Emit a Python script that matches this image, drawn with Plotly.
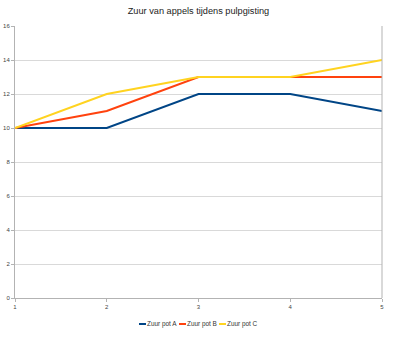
import plotly.graph_objects as go

# Measurement points and acidity per pot
dagen = [1, 2, 3, 4, 5]
zuur_a = [10, 10, 12, 12, 11]
zuur_b = [10, 11, 13, 13, 13]
zuur_c = [10, 12, 13, 13, 14]
namen = ["Zuur pot A", "Zuur pot B", "Zuur pot C"]
kleuren = ["#004586", "#ff420e", "#ffd320"]

fig = go.Figure()
for naam, waarden, kleur in zip(namen, [zuur_a, zuur_b, zuur_c], kleuren):
    fig.add_trace(go.Scatter(x=dagen, y=waarden, name=naam, mode="lines",
                             line=dict(color=kleur, width=2), showlegend=False))

fig.update_layout(
    width=400, height=337,
    margin=dict(l=15, r=18, t=26, b=39),
    paper_bgcolor="white", plot_bgcolor="white",
    font=dict(family="Liberation Sans, Arial, sans-serif", color="#333333"),
    title=dict(text="Zuur van appels tijdens pulpgisting", x=0.5, xanchor="center",
               xref="paper", y=1 - 11 / 337, yref="container", yanchor="middle",
               font=dict(size=9.2, color="#222222")),
    showlegend=False,
)

fig.update_xaxes(range=[1, 5], tickvals=dagen, showgrid=False, zeroline=False,
                 showline=True, linecolor="#b3b3b3", linewidth=1,
                 ticks="outside", ticklen=3, tickcolor="#b3b3b3",
                 tickfont=dict(size=6, color="#444444"), automargin=False)
fig.update_yaxes(range=[0, 16], dtick=2, showgrid=True, gridcolor="#d9d9d9",
                 zeroline=False, showline=True, linecolor="#b3b3b3", linewidth=1,
                 ticks="outside", ticklen=3, tickcolor="#b3b3b3",
                 tickfont=dict(size=6, color="#444444"), automargin=False)
# right border of the plot area
fig.add_shape(type="line", xref="paper", yref="paper", x0=1, x1=1, y0=0, y1=1,
              line=dict(color="#b3b3b3", width=1))

# compact legend below the plot: short line key followed by the series name
legend_y = -26 / 272
start = 124 / 367
for i, (naam, kleur) in enumerate(zip(namen, kleuren)):
    x0 = start + i * 40 / 367
    fig.add_shape(type="line", xref="paper", yref="paper",
                  x0=x0, x1=x0 + 7 / 367, y0=legend_y, y1=legend_y,
                  line=dict(color=kleur, width=2))
    fig.add_annotation(text=naam, xref="paper", yref="paper",
                       x=x0 + 7 / 367, y=legend_y, xanchor="left", yanchor="middle",
                       xshift=-1, showarrow=False,
                       font=dict(size=6.4, color="#333333"))

fig.write_html("out.html")
